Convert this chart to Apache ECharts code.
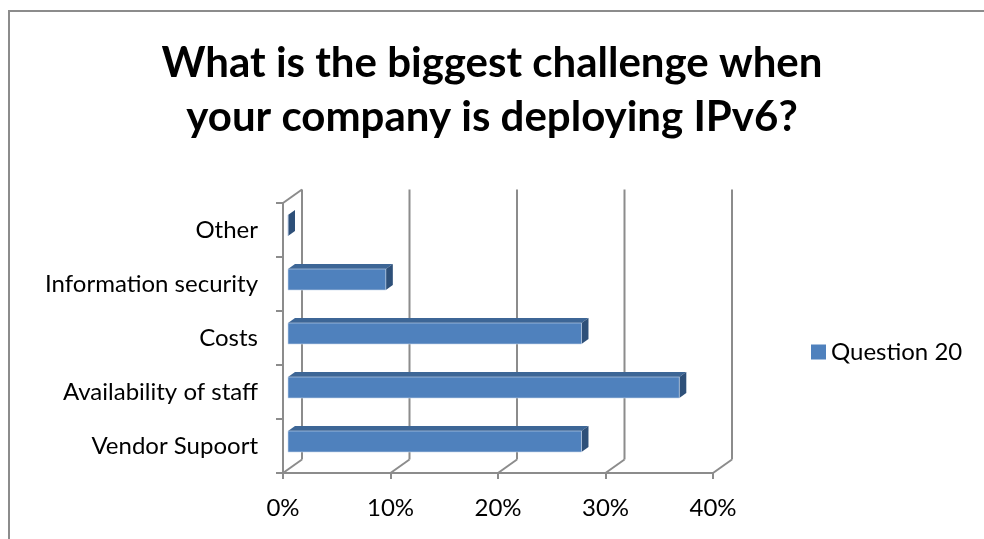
<!DOCTYPE html>
<html><head><meta charset="utf-8">
<script src="https://cdn.jsdelivr.net/npm/echarts@6/dist/echarts.min.js"></script>
<style>html,body{margin:0;padding:0;background:#fff}#c{width:984px;height:539px}</style>
</head><body><div id="c"></div>
<script>
const categories = ['Vendor Supoort', 'Availability of staff', 'Costs', 'Information security', 'Other'];
const values = [0.273, 0.364, 0.273, 0.091, 0];
const xTicks = [0, 0.1, 0.2, 0.3, 0.4];
const seriesName = 'Question 20';
const titleText = 'What is the biggest challenge when\nyour company is deploying IPv6?';

const DEPTH = [19, -13.5];
const BAR_OFF = [5, -4.5];
const BAR_D = [7, -5];
const BAR_H = 21;
const LINE = '#8c8c8c';
const FRONT = '#4F81BD', TOP = '#3D6696', SIDE = '#2E5079';
const FONT = 'Lato';

const chart = echarts.init(document.getElementById('c'), null, {renderer: 'canvas'});

function frameItem(params, api) {
  const v = api.value(0);
  const c = api.coord([v, 0]);
  const band = api.size([0, 1])[1];
  const yBot = c[1] + band / 2;
  const yTop = yBot - band * categories.length;
  const x = c[0];
  const bx = x + DEPTH[0];
  const st = {stroke: LINE, lineWidth: 2, fill: null};
  const children = [
    {type: 'line', shape: {x1: bx, y1: yTop + DEPTH[1], x2: bx, y2: yBot + DEPTH[1]}, style: st},
    {type: 'line', shape: {x1: x, y1: yBot, x2: bx, y2: yBot + DEPTH[1]}, style: st}
  ];
  if (params.dataIndex === 0) {
    children.push({type: 'line', shape: {x1: x, y1: yTop, x2: bx, y2: yTop + DEPTH[1]}, style: st});
  }
  return {type: 'group', children: children};
}

function barItem(params, api) {
  const idx = api.value(1);
  const p0 = api.coord([0, idx]);
  const p1 = api.coord([api.value(0), idx]);
  const x0 = p0[0] + BAR_OFF[0];
  const x1 = p1[0] + BAR_OFF[0];
  const cy = p0[1] + BAR_OFF[1];
  const yt = cy - BAR_H / 2, yb = cy + BAR_H / 2;
  return {type: 'group', children: [
    {type: 'polygon', shape: {points: [[x0, yt], [x1, yt], [x1 + BAR_D[0], yt + BAR_D[1]], [x0 + BAR_D[0], yt + BAR_D[1]]]}, style: {fill: TOP}},
    {type: 'polygon', shape: {points: [[x1, yt], [x1 + BAR_D[0], yt + BAR_D[1]], [x1 + BAR_D[0], yb + BAR_D[1]], [x1, yb]]}, style: {fill: SIDE}},
    {type: 'rect', shape: {x: x0, y: yt, width: Math.max(0, x1 - x0), height: BAR_H}, style: {fill: FRONT, stroke: 'rgba(200,215,235,0.6)', lineWidth: 1}}
  ]};
}

chart.setOption({
  animation: false,
  backgroundColor: '#fff',
  graphic: [{type: 'rect', shape: {x: 9, y: 11, width: 1100, height: 700}, style: {fill: null, stroke: '#8c8c8c', lineWidth: 2}, silent: true}],
  title: {
    text: titleText, left: 'center', top: 31,
    textStyle: {fontFamily: FONT, fontWeight: 'bold', fontSize: 42, lineHeight: 54, color: '#000'}
  },
  legend: {
    data: [{name: seriesName, icon: 'rect', itemStyle: {color: FRONT}}],
    left: 811, top: 340, padding: 0, itemWidth: 15, itemHeight: 15, itemGap: 8,
    textStyle: {fontFamily: FONT, fontSize: 24, color: '#000'}
  },
  grid: {left: 283, top: 203, width: 430, height: 270, containLabel: false},
  xAxis: {
    type: 'value', min: 0, max: 0.4, interval: 0.1,
    axisLine: {show: true, lineStyle: {color: LINE, width: 2}},
    axisTick: {show: true, length: 6, lineStyle: {color: LINE, width: 2}},
    splitLine: {show: false},
    axisLabel: {margin: 23, fontFamily: FONT, fontSize: 24, color: '#000',
      formatter: v => Math.round(v * 100) + '%'}
  },
  yAxis: {
    type: 'category', data: categories,
    axisLine: {show: true, lineStyle: {color: LINE, width: 2}},
    axisTick: {show: true, length: 7, lineStyle: {color: LINE, width: 2}},
    axisLabel: {margin: 25, fontFamily: FONT, fontSize: 24, color: '#000'}
  },
  series: [
    {type: 'custom', name: 'frame', renderItem: frameItem, data: xTicks.map(v => [v, 0]), silent: true, z: 1},
    {type: 'custom', name: seriesName, renderItem: barItem, data: values.map((v, i) => [v, i]), itemStyle: {color: FRONT}, z: 3}
  ]
});
</script></body></html>
